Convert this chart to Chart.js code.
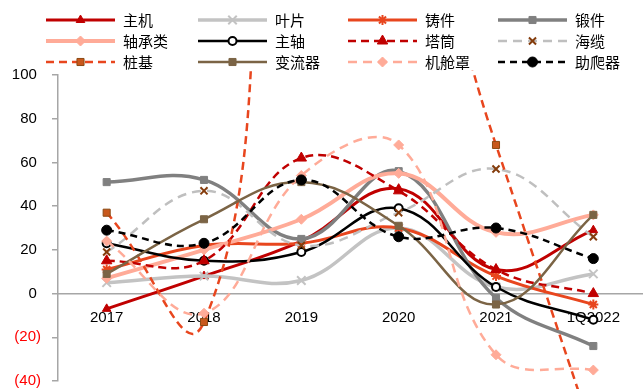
<!DOCTYPE html>
<html>
<head>
<meta charset="utf-8">
<script src="https://cdn.jsdelivr.net/npm/chart.js@4.4.0/dist/chart.umd.min.js"></script>
<style>
  html, body { margin: 0; padding: 0; overflow: hidden; background: #fff; }
  #wrap { width: 650px; height: 389px; }
</style>
</head>
<body>
<div id="wrap"><canvas id="c" width="650" height="389"></canvas></div>
<script>
// Categories and growth-rate series (%)
const categories = ['2017', '2018', '2019', '2020', '2021', '1Q2022'];
const zhuji       = [-7, 8, 24, 48, 11, 29];      // 主机
const yepian      = [5, 8, 6, 30, 3, 9];          // 叶片
const zhujian     = [11, 22, 23, 30, 8, -5];      // 铸件
const duanjian    = [51, 52, 25, 56, -2, -24];    // 锻件
const zhouchenglei = [7, 20, 34, 55, 28, 36];     // 轴承类
const zhuzhou     = [23, 15, 19, 39, 3, -12];     // 主轴
const tatong      = [15, 15, 62, 47, 11, 0];      // 塔筒
const hailan      = [19, 47, 22, 37, 57, 26];     // 海缆
const zhuangji    = [37, -13, 250, 200, 68, -65]; // 桩基
const bianliuqi   = [9, 34, 51, 31, -5, 36];      // 变流器
const jicangzhao  = [24, -9, 54, 68, -28, -35];   // 机舱罩
const zhupaqi     = [29, 23, 52, 26, 30, 16];     // 助爬器
const yTicks = [-40, -20, 0, 20, 40, 60, 80, 100];

// Legend grid geometry (4 columns x 3 rows)
const LEGEND_X = [46, 198, 348, 498];
const LEGEND_Y = [20, 41, 62];
const LEGEND_LINE = 69;

function series(label, data, color, o) {
  return Object.assign({
    label, data,
    borderColor: color,
    borderWidth: 3,
    borderDash: [],
    pointStyle: 'circle',
    pointRadius: 5,
    pointBackgroundColor: color,
    pointBorderColor: color,
    pointBorderWidth: 1,
    fill: false
  }, o);
}

const datasets = [
  series('主机', zhuji, '#C00000', { pointStyle: 'triangle', pointRadius: 5 }),
  series('叶片', yepian, '#C3C3C3', { borderWidth: 3.5, pointStyle: 'crossRot', pointRadius: 6, pointBorderWidth: 2 }),
  series('铸件', zhujian, '#E8461E', { pointStyle: 'star', pointRadius: 5, pointBorderWidth: 2 }),
  series('锻件', duanjian, '#808080', { borderWidth: 3.5, pointStyle: 'rect', pointRadius: 5 }),
  series('轴承类', zhouchenglei, '#FFAB98', { borderWidth: 4, pointStyle: 'rectRot', pointRadius: 5 }),
  series('主轴', zhuzhou, '#000000', { borderWidth: 2.5, pointRadius: 4, pointBackgroundColor: '#ffffff', pointBorderWidth: 2 }),
  series('塔筒', tatong, '#C00000', { borderWidth: 2.5, borderDash: [8, 5], pointStyle: 'triangle', pointRadius: 6 }),
  series('海缆', hailan, '#BFBFBF', { borderWidth: 2.5, borderDash: [9, 6], pointStyle: 'crossRot', pointRadius: 5,
    pointBorderColor: '#843C0C', pointBorderWidth: 2 }),
  series('桩基', zhuangji, '#E8461E', { borderWidth: 2.5, borderDash: [8, 5], pointStyle: 'rect', pointRadius: 5,
    tension: 0.5,
    pointBackgroundColor: '#C8581C', pointBorderColor: '#8B4A14',
    clip: { left: false, top: 5, right: false, bottom: false } }),
  series('变流器', bianliuqi, '#7B6445', { borderWidth: 2.5, pointStyle: 'rect', pointRadius: 5 }),
  series('机舱罩', jicangzhao, '#FFAB98', { borderWidth: 2.5, borderDash: [9, 6], pointStyle: 'rectRot', pointRadius: 5 }),
  series('助爬器', zhupaqi, '#000000', { borderWidth: 2.5, borderDash: [7, 5], pointRadius: 5 })
];
// later series are painted above earlier ones
datasets.forEach((d, i) => { d.order = datasets.length - i; });

const gridLegend = {
  id: 'gridLegend',
  afterDraw(chart) {
    const ctx = chart.ctx;
    chart.data.datasets.forEach((ds, i) => {
      const x0 = LEGEND_X[i % 4];
      const y = LEGEND_Y[Math.floor(i / 4)];
      ctx.save();
      ctx.strokeStyle = ds.borderColor;
      ctx.lineWidth = ds.borderWidth;
      ctx.setLineDash(ds.borderDash || []);
      ctx.beginPath();
      ctx.moveTo(x0, y);
      ctx.lineTo(x0 + LEGEND_LINE, y);
      ctx.stroke();
      ctx.setLineDash([]);
      ctx.fillStyle = ds.pointBackgroundColor;
      ctx.strokeStyle = ds.pointBorderColor;
      ctx.lineWidth = ds.pointBorderWidth;
      Chart.helpers.drawPoint(ctx, {
        pointStyle: ds.pointStyle, radius: ds.pointRadius, rotation: 0, borderWidth: ds.pointBorderWidth
      }, x0 + LEGEND_LINE / 2, y);
      ctx.fillStyle = '#000';
      ctx.font = '15px "Noto Sans CJK SC"';
      ctx.textBaseline = 'middle';
      ctx.textAlign = 'left';
      ctx.fillText(ds.label, x0 + LEGEND_LINE + 8, y);
      ctx.restore();
    });
  }
};

new Chart(document.getElementById('c'), {
  type: 'line',
  data: { labels: categories, datasets },
  plugins: [gridLegend],
  options: {
    responsive: false,
    animation: false,
    devicePixelRatio: 1,
    layout: { padding: { top: 75, bottom: 8, left: 0, right: 2 } },
    elements: { line: { tension: 0.4 } },
    plugins: { legend: { display: false }, tooltip: { enabled: false } },
    scales: {
      x: {
        type: 'category',
        position: { y: 0 },
        offset: true,
        grid: { display: true, drawOnChartArea: false, drawTicks: false },
        border: { display: true, color: '#A6A6A6', width: 1.5 },
        ticks: { padding: 15, color: '#000', maxRotation: 0, autoSkip: false,
          font: { family: '"Liberation Sans", Arial, sans-serif', size: 15 } }
      },
      y: {
        position: 'left',
        min: yTicks[0],
        max: yTicks[yTicks.length - 1],
        afterBuildTicks: s => { s.ticks = yTicks.map(v => ({ value: v })); },
        afterFit: s => { s.width = 58; s.paddingTop = 0; s.paddingBottom = 0; },
        grid: { drawOnChartArea: false, drawTicks: true, tickLength: 6, color: '#A6A6A6', lineWidth: 1.5 },
        border: { display: true, color: '#A6A6A6', width: 1.5 },
        ticks: {
          padding: 11,
          font: { family: '"Liberation Sans", Arial, sans-serif', size: 15 },
          color: c => (c.tick && c.tick.value < 0 ? '#FF0000' : '#000000'),
          callback: v => (v < 0 ? '(' + Math.abs(v) + ')' : v + ' ')
        }
      }
    }
  }
});
</script>
</body>
</html>
